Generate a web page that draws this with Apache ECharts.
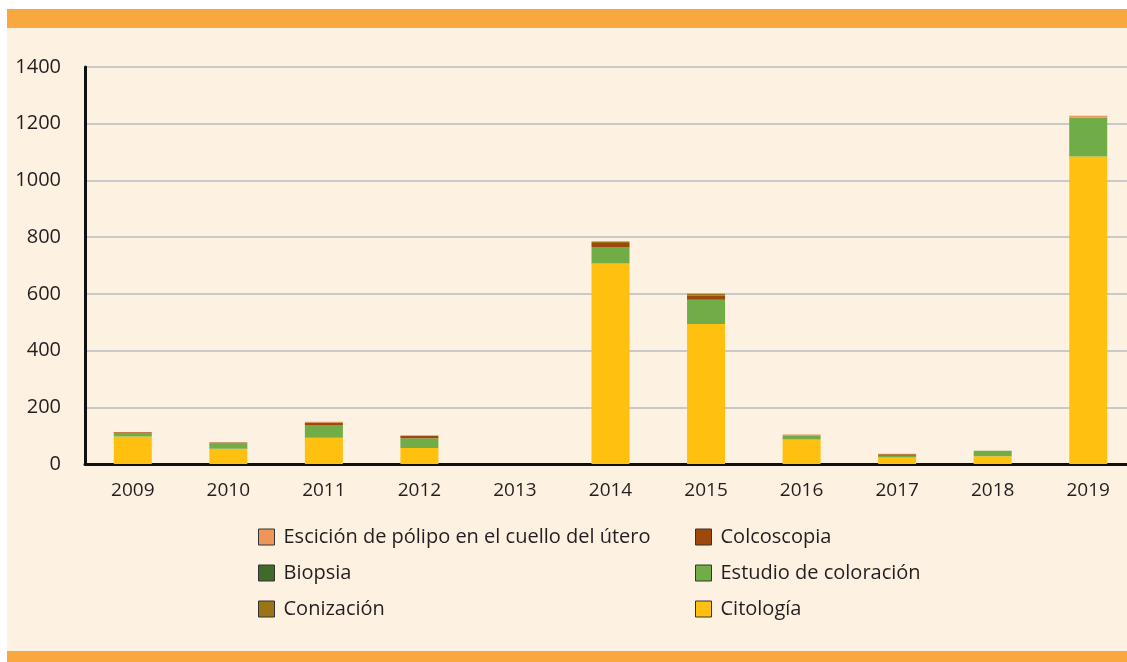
<!DOCTYPE html>
<html>
<head>
<meta charset="utf-8">
<script src="https://cdn.jsdelivr.net/npm/echarts@6/dist/echarts.min.js"></script>
<style>
  html, body { margin: 0; padding: 0; background: #fff; overflow: hidden; }
  .frame {
    position: absolute; left: 7px; top: 9px; width: 1120px; height: 623px;
    background: #fdf1e1; border-top: 19px solid #f9a73f; border-bottom: 11px solid #f9a73f;
  }
  #myChart { position: absolute; left: 0; top: 0; width: 1150px; height: 662px; }
</style>
</head>
<body>
<div class="frame"></div>
<div id="myChart"></div>
<script>
// años
var years = ["2009", "2010", "2011", "2012", "2013", "2014", "2015", "2016", "2017", "2018", "2019"];
// valores por procedimiento
var citologia   = [97, 54, 93, 56, 0, 707, 494, 86, 23, 27, 1084];
var coloracion  = [12, 19, 43, 35, 0, 58, 85, 13, 6, 20, 138];
var biopsia     = [0, 0, 0, 0, 0, 0, 0, 0, 0, 0, 0];
var colcoscopia = [3, 3, 10, 8, 0, 14, 14, 0, 5, 0, 0];
var conizacion  = [0, 0, 0, 0, 0, 6, 7, 0, 0, 0, 0];
var escision    = [1, 0, 3, 2, 0, 0, 0, 5, 2, 0, 6];
var yTicks = { min: 0, max: 1400, interval: 200 };

var font = "'Open Sans', sans-serif";
var myChart = echarts.init(document.getElementById("myChart"));

function serie(name, data, color) {
  return {
    name: name,
    type: "bar",
    stack: "total",
    barWidth: 38,
    data: data,
    itemStyle: { color: color }
  };
}

var legendText = { fontFamily: font, fontSize: 20, color: "#231f20", padding: [0, 0, 0, 4] };

var option = {
  backgroundColor: "transparent",
  animation: false,
  grid: { left: 85, top: 67, width: 1051, bottom: 198 },
  legend: [
    {
      orient: "vertical", left: 253, top: 522, itemGap: 16, icon: "rect",
      itemWidth: 16, itemHeight: 16,
      textStyle: legendText,
      itemStyle: { borderColor: "#333", borderWidth: 1 },
      data: ["Escición de pólipo en el cuello del útero", "Biopsia", "Conización"]
    },
    {
      orient: "vertical", left: 690, top: 522, itemGap: 16, icon: "rect",
      itemWidth: 16, itemHeight: 16,
      textStyle: legendText,
      itemStyle: { borderColor: "#333", borderWidth: 1 },
      data: ["Colcoscopia", "Estudio de coloración", "Citología"]
    }
  ],
  xAxis: {
    type: "category",
    data: years,
    axisLine: { lineStyle: { color: "#111", width: 3 } },
    axisTick: { show: false },
    axisLabel: { fontFamily: font, fontSize: 19, color: "#231f20", margin: 17 }
  },
  yAxis: {
    type: "value",
    min: yTicks.min, max: yTicks.max, interval: yTicks.interval,
    axisLine: { show: true, lineStyle: { color: "#111", width: 3 } },
    axisTick: { show: false },
    splitLine: { lineStyle: { color: "#c9c9c9", width: 2 } },
    axisLabel: {
      fontFamily: font, fontSize: 20, color: "#231f20", margin: 24,
      formatter: function (v) { return String(v); }
    }
  },
  series: [
    serie("Citología", citologia, "#ffc010"),
    serie("Estudio de coloración", coloracion, "#70ad47"),
    serie("Biopsia", biopsia, "#3f6a27"),
    serie("Colcoscopia", colcoscopia, "#9e480e"),
    serie("Conización", conizacion, "#9c7415"),
    serie("Escición de pólipo en el cuello del útero", escision, "#f0955a")
  ]
};
myChart.setOption(option);
</script>
</body>
</html>
